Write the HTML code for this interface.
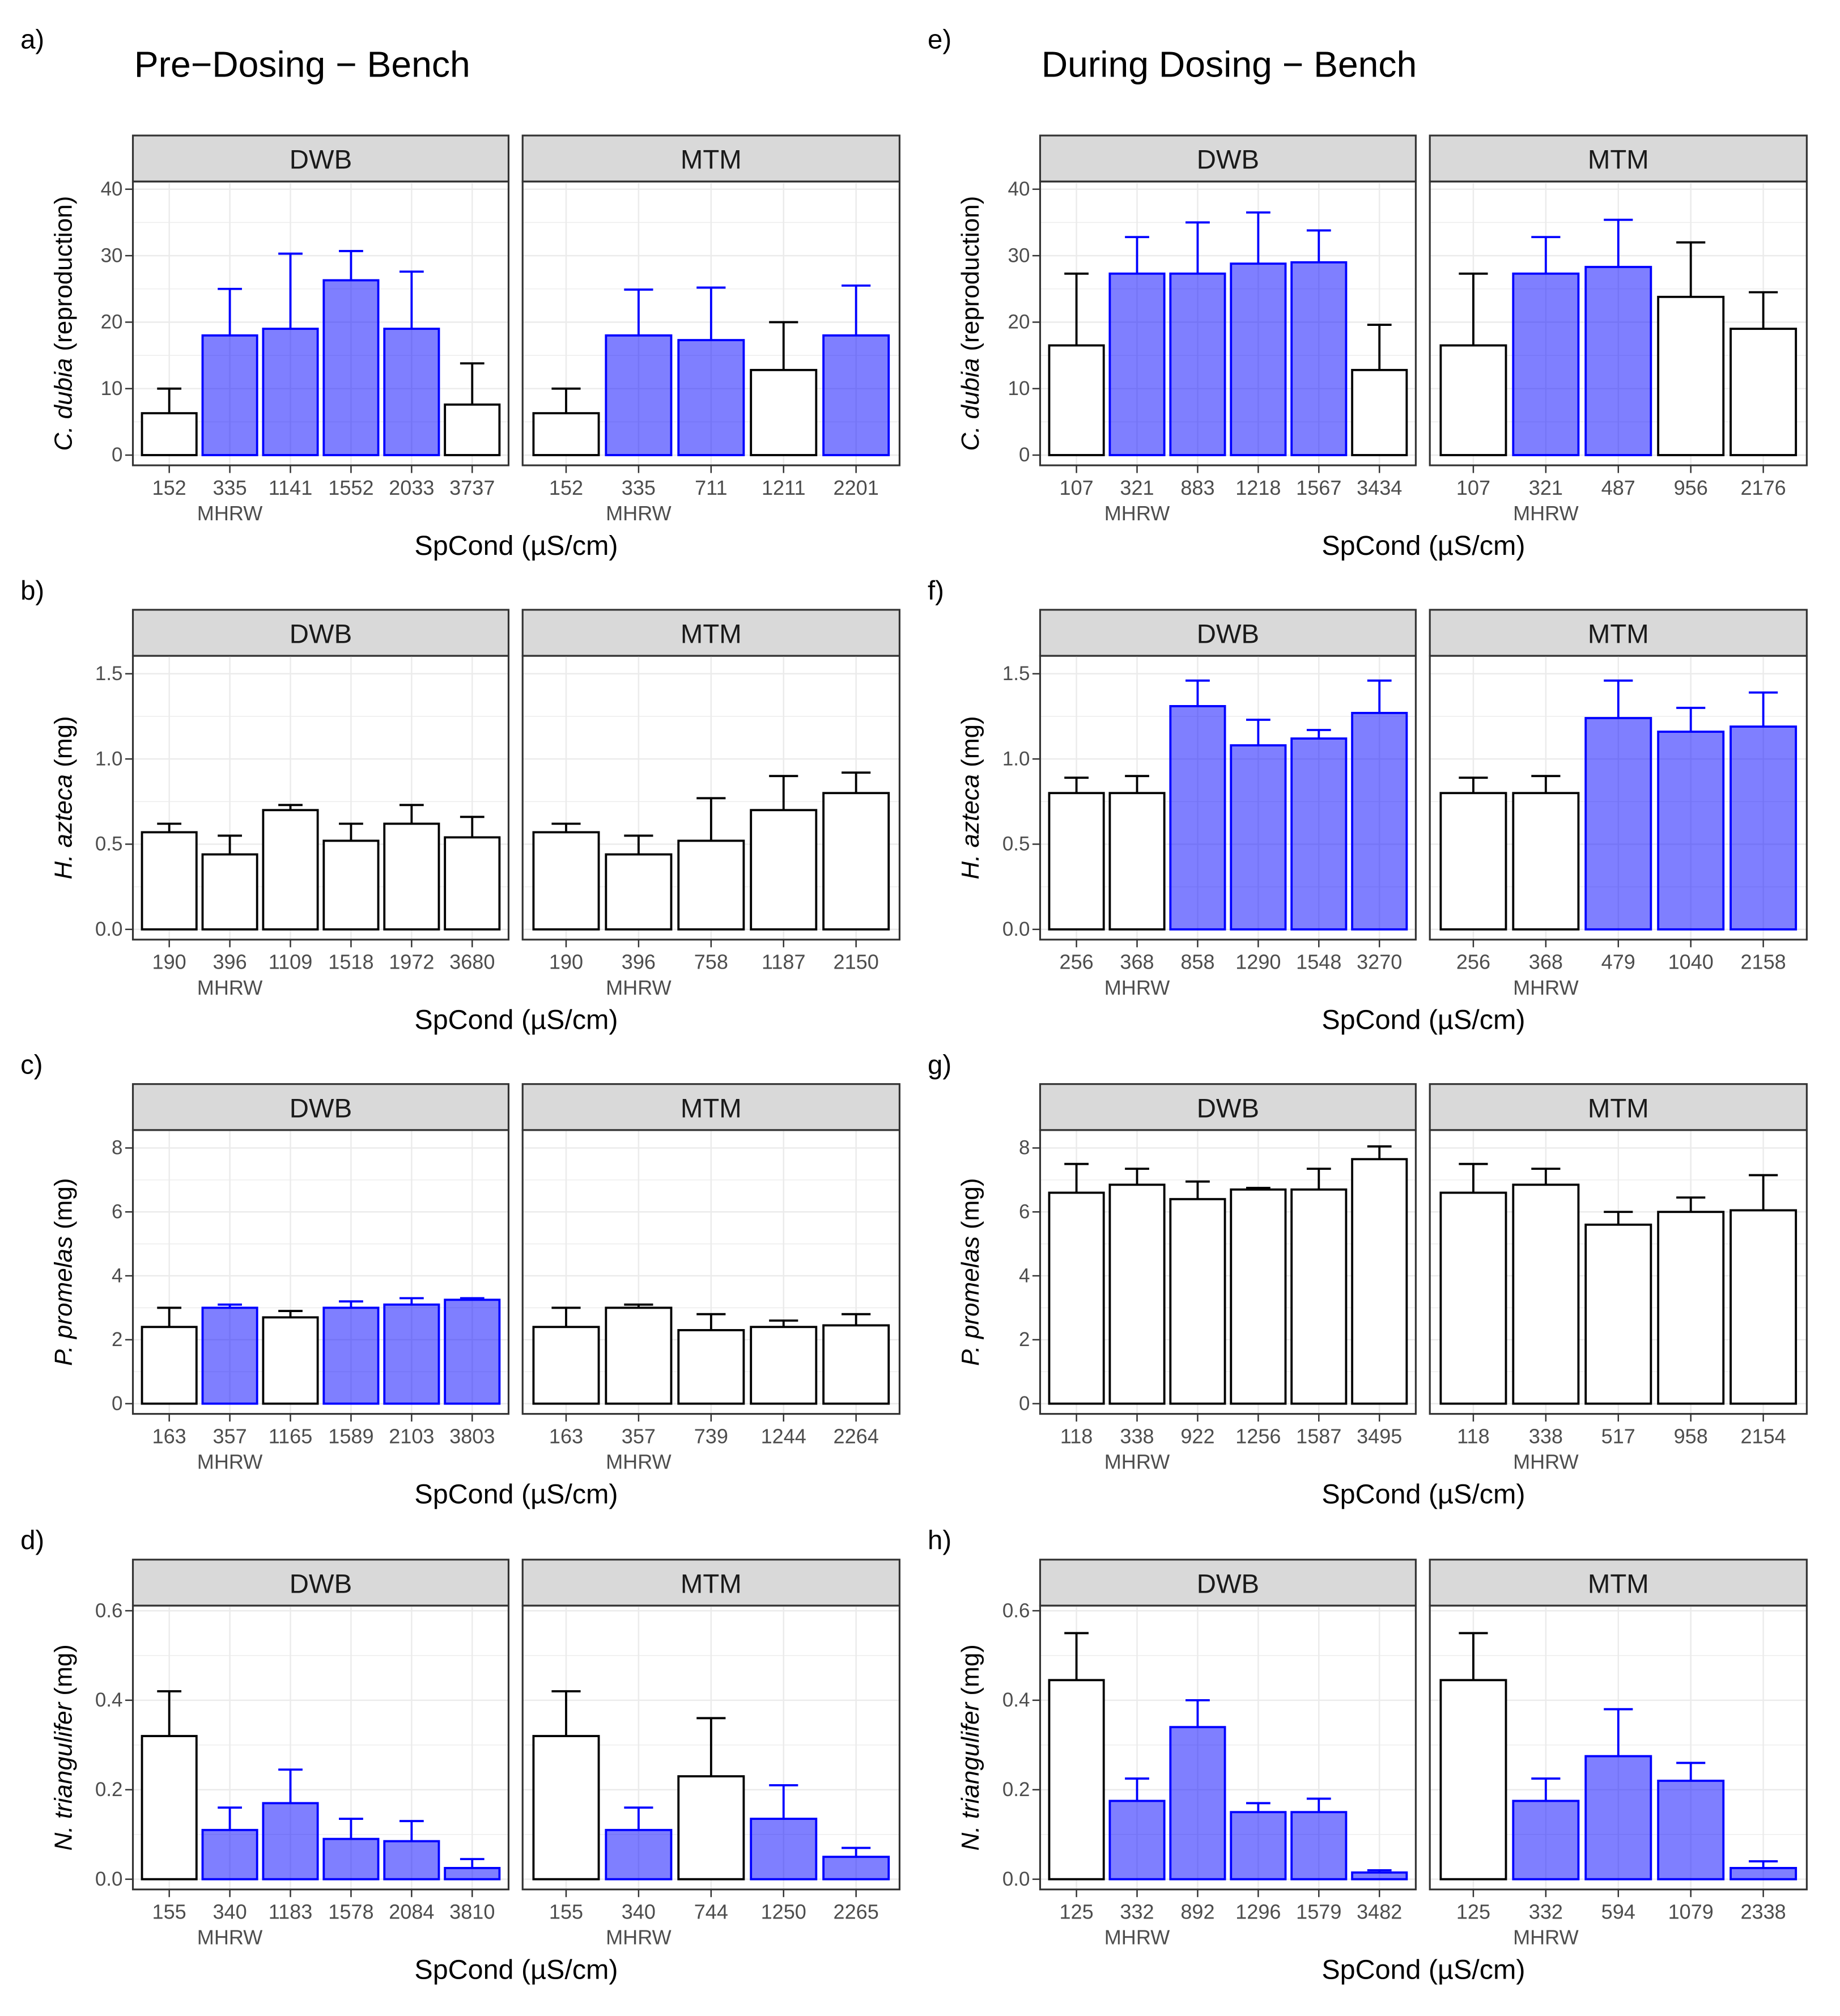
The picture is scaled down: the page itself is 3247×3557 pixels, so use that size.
<!DOCTYPE html>
<html><head><meta charset="utf-8"><style>
html,body{margin:0;padding:0;background:#fff}
svg{display:block}
text{font-family:"Liberation Sans",Arial,sans-serif}
</style></head><body>
<svg id="fig" xmlns="http://www.w3.org/2000/svg" width="3247" height="3557" viewBox="0 0 1440 1577" preserveAspectRatio="none"></svg>
<script>
// ---- data ----
const cats_a_dwb=["152","335","1141","1552","2033","3737"];
const mean_a_dwb=[6.3,18,19,26.3,19,7.6];
const top_a_dwb=[10,25,30.3,30.7,27.6,13.8];
const blue_a_dwb=[0,1,1,1,1,0];
const cats_a_mtm=["152","335","711","1211","2201"];
const mean_a_mtm=[6.3,18,17.3,12.8,18];
const top_a_mtm=[10,24.9,25.2,20,25.5];
const blue_a_mtm=[0,1,1,0,1];

const cats_e_dwb=["107","321","883","1218","1567","3434"];
const mean_e_dwb=[16.5,27.3,27.3,28.8,29,12.8];
const top_e_dwb=[27.3,32.8,35,36.5,33.8,19.6];
const blue_e_dwb=[0,1,1,1,1,0];
const cats_e_mtm=["107","321","487","956","2176"];
const mean_e_mtm=[16.5,27.3,28.3,23.8,19];
const top_e_mtm=[27.3,32.8,35.4,32,24.5];
const blue_e_mtm=[0,1,1,0,0];

const cats_b_dwb=["190","396","1109","1518","1972","3680"];
const mean_b_dwb=[0.57,0.44,0.70,0.52,0.62,0.54];
const top_b_dwb=[0.62,0.55,0.73,0.62,0.73,0.66];
const blue_b_dwb=[0,0,0,0,0,0];
const cats_b_mtm=["190","396","758","1187","2150"];
const mean_b_mtm=[0.57,0.44,0.52,0.70,0.80];
const top_b_mtm=[0.62,0.55,0.77,0.90,0.92];
const blue_b_mtm=[0,0,0,0,0];

const cats_f_dwb=["256","368","858","1290","1548","3270"];
const mean_f_dwb=[0.80,0.80,1.31,1.08,1.12,1.27];
const top_f_dwb=[0.89,0.90,1.46,1.23,1.17,1.46];
const blue_f_dwb=[0,0,1,1,1,1];
const cats_f_mtm=["256","368","479","1040","2158"];
const mean_f_mtm=[0.80,0.80,1.24,1.16,1.19];
const top_f_mtm=[0.89,0.90,1.46,1.30,1.39];
const blue_f_mtm=[0,0,1,1,1];

const cats_c_dwb=["163","357","1165","1589","2103","3803"];
const mean_c_dwb=[2.4,3.0,2.7,3.0,3.1,3.25];
const top_c_dwb=[3.0,3.1,2.9,3.2,3.3,3.3];
const blue_c_dwb=[0,1,0,1,1,1];
const cats_c_mtm=["163","357","739","1244","2264"];
const mean_c_mtm=[2.4,3.0,2.3,2.4,2.45];
const top_c_mtm=[3.0,3.1,2.8,2.6,2.8];
const blue_c_mtm=[0,0,0,0,0];

const cats_g_dwb=["118","338","922","1256","1587","3495"];
const mean_g_dwb=[6.6,6.85,6.4,6.7,6.7,7.65];
const top_g_dwb=[7.5,7.35,6.95,6.75,7.35,8.05];
const blue_g_dwb=[0,0,0,0,0,0];
const cats_g_mtm=["118","338","517","958","2154"];
const mean_g_mtm=[6.6,6.85,5.6,6.0,6.05];
const top_g_mtm=[7.5,7.35,6.0,6.45,7.15];
const blue_g_mtm=[0,0,0,0,0];

const cats_d_dwb=["155","340","1183","1578","2084","3810"];
const mean_d_dwb=[0.32,0.11,0.17,0.09,0.085,0.025];
const top_d_dwb=[0.42,0.16,0.245,0.135,0.13,0.045];
const blue_d_dwb=[0,1,1,1,1,1];
const cats_d_mtm=["155","340","744","1250","2265"];
const mean_d_mtm=[0.32,0.11,0.23,0.135,0.05];
const top_d_mtm=[0.42,0.16,0.36,0.21,0.07];
const blue_d_mtm=[0,1,0,1,1];

const cats_h_dwb=["125","332","892","1296","1579","3482"];
const mean_h_dwb=[0.445,0.175,0.34,0.15,0.15,0.015];
const top_h_dwb=[0.55,0.225,0.40,0.17,0.18,0.02];
const blue_h_dwb=[0,1,1,1,1,1];
const cats_h_mtm=["125","332","594","1079","2338"];
const mean_h_mtm=[0.445,0.175,0.275,0.22,0.025];
const top_h_mtm=[0.55,0.225,0.38,0.26,0.04];
const blue_h_mtm=[0,1,1,1,1];

const ticks_a=[0,10,20,30,40]; const tlab_a=["0","10","20","30","40"];
const ticks_b=[0,0.5,1,1.5]; const tlab_b=["0.0","0.5","1.0","1.5"];
const ticks_c=[0,2,4,6,8]; const tlab_c=["0","2","4","6","8"];
const ticks_d=[0,0.2,0.4,0.6]; const tlab_d=["0.0","0.2","0.4","0.6"];

// ---- drawing ----
const NS="http://www.w3.org/2000/svg";
const svg=document.getElementById('fig');
function mk(tag,attrs,parent,txt){const e=document.createElementNS(NS,tag);for(const k in attrs)e.setAttribute(k,attrs[k]);if(txt!==undefined)e.textContent=txt;(parent||svg).appendChild(e);return e;}

const rows=[
 {off:0,ticks:ticks_a,tlab:tlab_a,ppu:5.2,ysp:"C. dubia",ysuf:" (reproduction)"},
 {off:371,ticks:ticks_b,tlab:tlab_b,ppu:133.3,ysp:"H. azteca",ysuf:" (mg)"},
 {off:742,ticks:ticks_c,tlab:tlab_c,ppu:25,ysp:"P. promelas",ysuf:" (mg)"},
 {off:1114,ticks:ticks_d,tlab:tlab_d,ppu:350,ysp:"N. triangulifer",ysuf:" (mg)"}
];
const panelData=[
 [[cats_a_dwb,mean_a_dwb,top_a_dwb,blue_a_dwb],[cats_a_mtm,mean_a_mtm,top_a_mtm,blue_a_mtm]],
 [[cats_b_dwb,mean_b_dwb,top_b_dwb,blue_b_dwb],[cats_b_mtm,mean_b_mtm,top_b_mtm,blue_b_mtm]],
 [[cats_c_dwb,mean_c_dwb,top_c_dwb,blue_c_dwb],[cats_c_mtm,mean_c_mtm,top_c_mtm,blue_c_mtm]],
 [[cats_d_dwb,mean_d_dwb,top_d_dwb,blue_d_dwb],[cats_d_mtm,mean_d_mtm,top_d_mtm,blue_d_mtm]],
 [[cats_e_dwb,mean_e_dwb,top_e_dwb,blue_e_dwb],[cats_e_mtm,mean_e_mtm,top_e_mtm,blue_e_mtm]],
 [[cats_f_dwb,mean_f_dwb,top_f_dwb,blue_f_dwb],[cats_f_mtm,mean_f_mtm,top_f_mtm,blue_f_mtm]],
 [[cats_g_dwb,mean_g_dwb,top_g_dwb,blue_g_dwb],[cats_g_mtm,mean_g_mtm,top_g_mtm,blue_g_mtm]],
 [[cats_h_dwb,mean_h_dwb,top_h_dwb,blue_h_dwb],[cats_h_mtm,mean_h_mtm,top_h_mtm,blue_h_mtm]]
];
const letters=["a)","b)","c)","d)","e)","f)","g)","h)"];
const cols=[{dx:0,title:"Pre\u2212Dosing \u2212 Bench"},{dx:710,title:"During Dosing \u2212 Bench"}];
const facets=[{x0:104,x1:398,name:"DWB"},{x0:409,x1:704,name:"MTM"}];

cols.forEach((col,ci)=>{
  const t=mk('text',{x:105+col.dx,y:60,'font-size':28.5,fill:'#000'},svg,col.title);
  
  
  rows.forEach((row,ri)=>{
    const g=mk('g',{});
    
    
    const oy=row.off, dx=col.dx;
    const y0=356+oy;
    const yv=v=>y0-v*row.ppu;
    const ly = ri===0 ? 38 : 98+oy;
    const lab=mk('text',{x:16+dx,y:ly,'font-size':21,fill:'#000'},g,letters[ci*4+ri]);
    
    
    const yt=mk('text',{transform:`translate(${56+dx},${253+oy}) rotate(-90)`,'text-anchor':'middle','font-size':19.5,fill:'#000'},g);
    
    
    mk('tspan',{'font-style':'italic'},yt,row.ysp);
    mk('tspan',{},yt,row.ysuf);
    row.ticks.forEach((tv,k)=>{
      const tl=mk('text',{x:96+dx,y:yv(tv)+5,'text-anchor':'end','font-size':15.5,fill:'#4d4d4d'},g,row.tlab[k]);
      
      
      mk('line',{x1:98+dx,x2:104+dx,y1:yv(tv),y2:yv(tv),stroke:'#333','stroke-width':1.1},g);
    });
    facets.forEach((f,fi)=>{
      const [cats,means,tops,blue]=panelData[ci*4+ri][fi];
      const X0=f.x0+dx,X1=f.x1+dx,W=X1-X0;
      const n=cats.length, u=W/(n-1+1.2);
      const xc=i=>X0+(0.6+i)*u;
      const s=mk('rect',{x:X0,y:106+oy,width:W,height:36,fill:'#d9d9d9',stroke:'#333','stroke-width':1.4},g);
      
      
      mk('text',{x:X0+W/2,y:132+oy,'text-anchor':'middle','font-size':21,fill:'#1a1a1a'},g,f.name);
      const step=row.ticks[1]-row.ticks[0];
      for(let v=step/2;yv(v)>=142+oy;v+=step/2){
        const major=Math.abs(v/step-Math.round(v/step))<1e-6;
        mk('line',{x1:X0,x2:X1,y1:yv(v),y2:yv(v),stroke:'#ebebeb','stroke-width':major?1.1:0.6},g);
      }
      mk('line',{x1:X0,x2:X1,y1:yv(0),y2:yv(0),stroke:'#ebebeb','stroke-width':1.1},g);
      cats.forEach((c,i)=>mk('line',{x1:xc(i),x2:xc(i),y1:142+oy,y2:364+oy,stroke:'#ebebeb','stroke-width':1.1},g));
      cats.forEach((c,i)=>{
        const col2=blue[i]?'#0000ff':'#000';
        const bw=0.9*u, cw=0.4*u;
        const eb=mk('path',{d:`M${xc(i)},${yv(means[i])}V${yv(tops[i])}M${xc(i)-cw/2},${yv(tops[i])}H${xc(i)+cw/2}`,stroke:col2,'stroke-width':1.7,fill:'none'},g);
        
        
        const b=mk('rect',{x:xc(i)-bw/2,y:yv(means[i]),width:bw,height:means[i]*row.ppu,fill:blue[i]?'rgba(0,0,255,0.5)':'#fff',stroke:col2,'stroke-width':1.7},g);
        
        
        mk('line',{x1:xc(i),x2:xc(i),y1:364+oy,y2:370+oy,stroke:'#333','stroke-width':1.1},g);
        const xl=mk('text',{x:xc(i),y:387+oy,'text-anchor':'middle','font-size':16,fill:'#4d4d4d'},g,c);
        
        
      });
      mk('text',{x:xc(1),y:407+oy,'text-anchor':'middle','font-size':16,fill:'#4d4d4d'},g,'MHRW');
      const pb=mk('rect',{x:X0,y:142+oy,width:W,height:222,fill:'none',stroke:'#333','stroke-width':1.4},g);
      
      
    });
    const xt=mk('text',{x:404+dx,y:434+oy,'text-anchor':'middle','font-size':21.5,fill:'#000'},g,'SpCond (\u00b5S/cm)');
    
    
  });
});
</script>
</body></html>
